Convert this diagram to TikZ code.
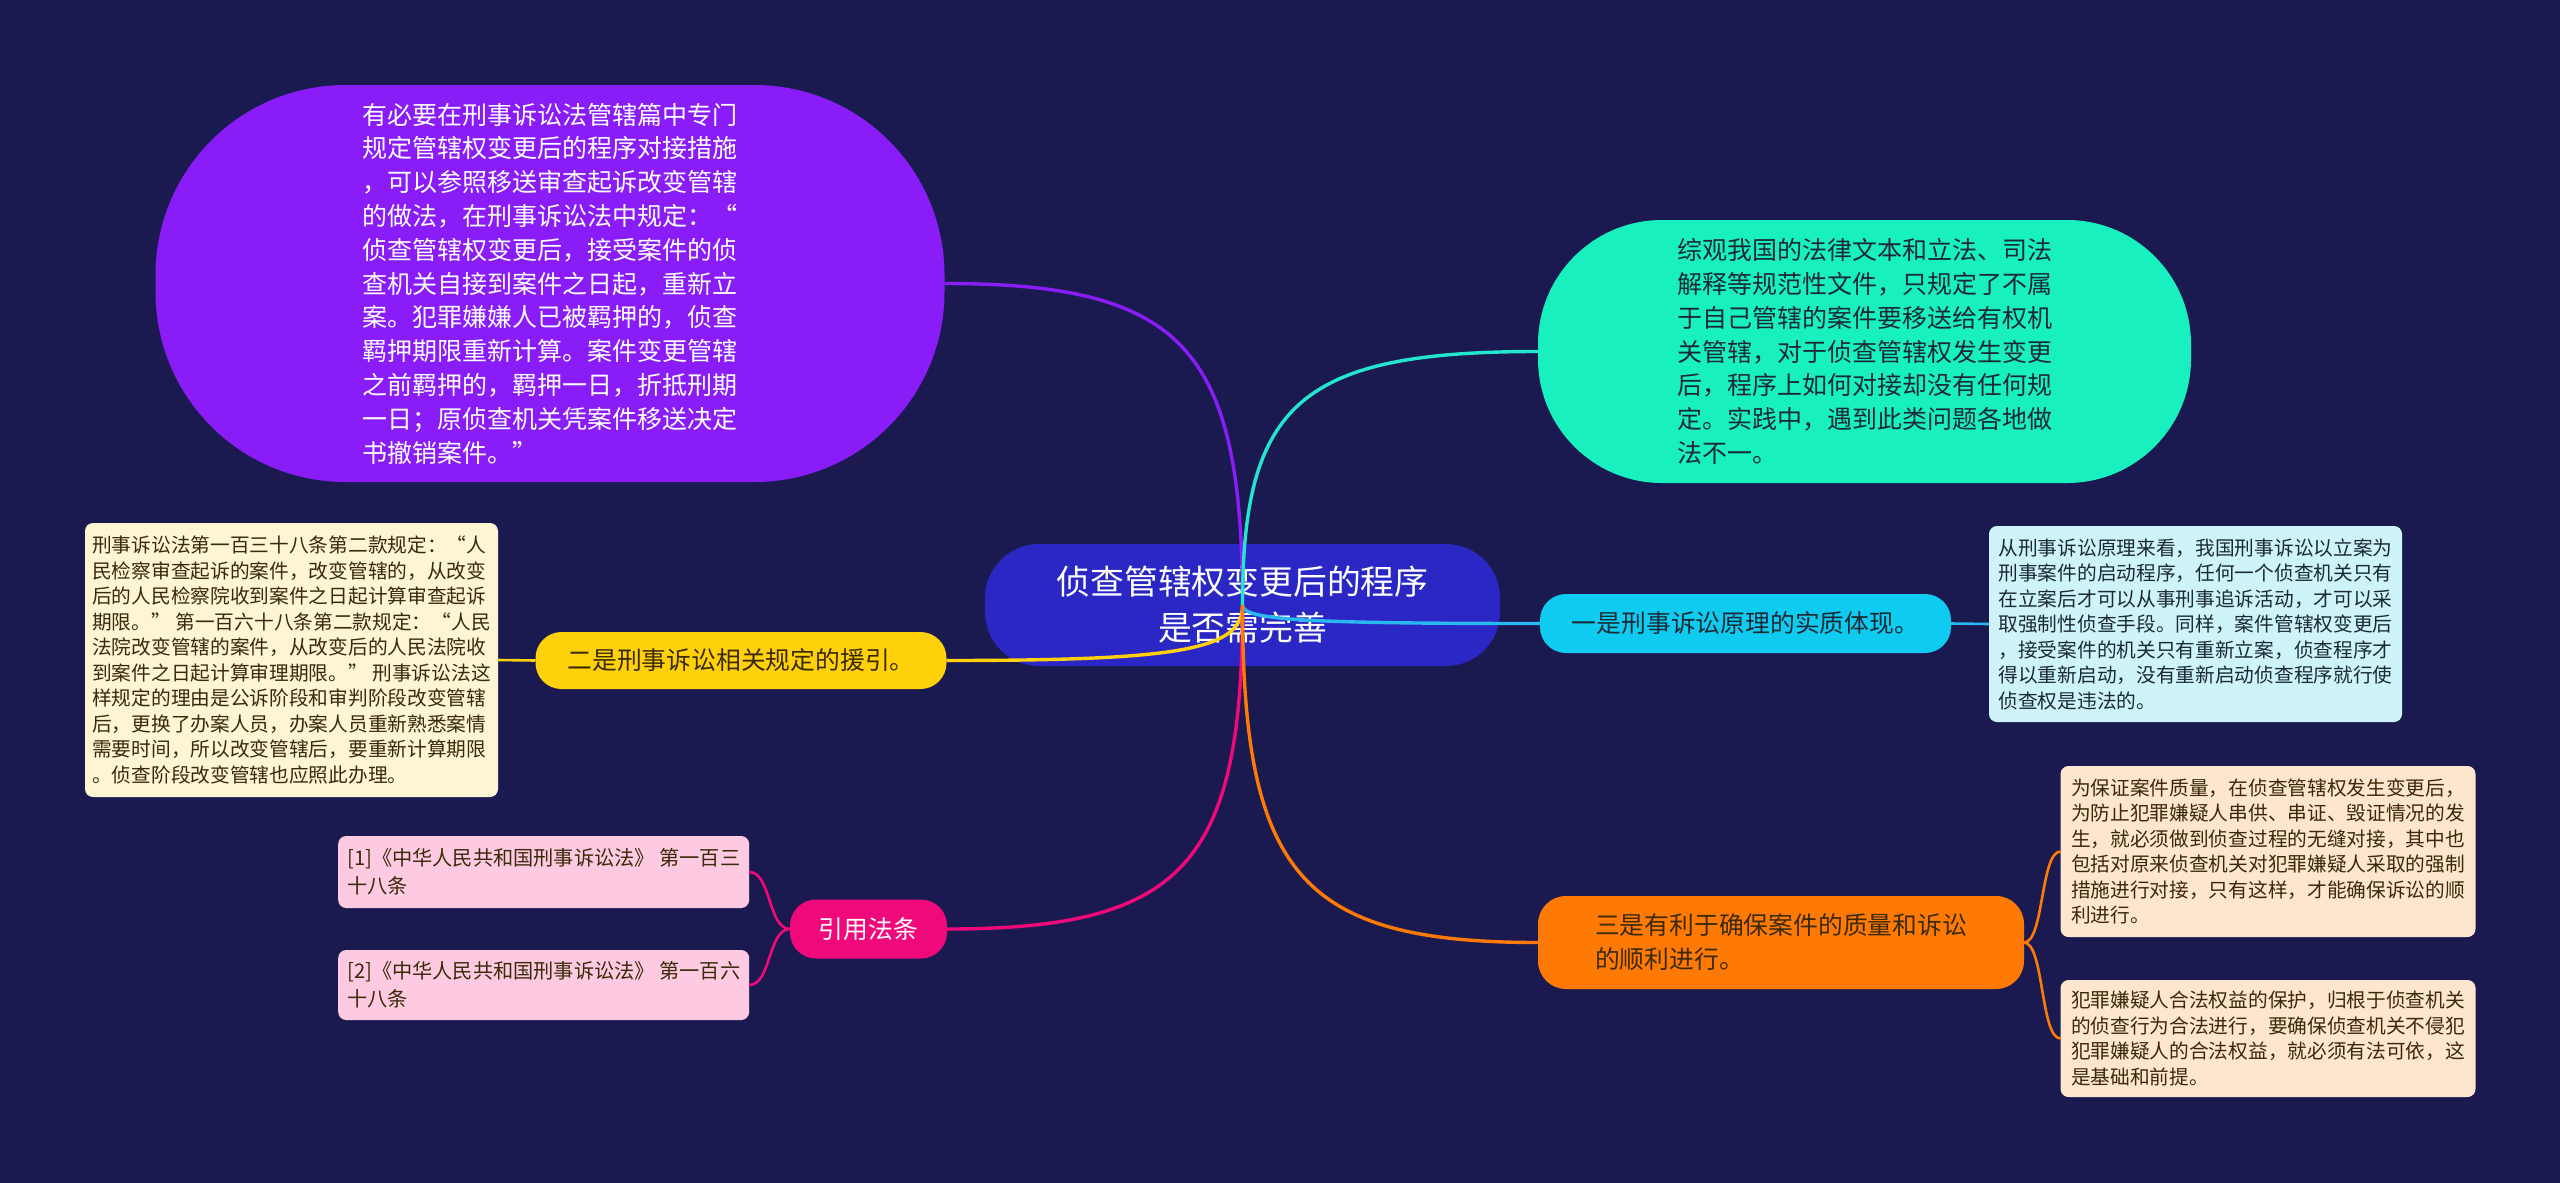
\documentclass[tikz,border=0pt]{standalone}
\usepackage{fontspec}
\setmainfont{Noto Sans CJK SC}
\usetikzlibrary{calc}
\definecolor{bgc}{HTML}{1B1A50}
\definecolor{rootc}{HTML}{2A27C4}
\definecolor{purc}{HTML}{8A1DF7}
\definecolor{tealc}{HTML}{18F0BF}
\definecolor{tealline}{HTML}{22E6D0}
\definecolor{cyanc}{HTML}{10CBF0}
\definecolor{cyanline}{HTML}{2AB8F0}
\definecolor{lbluec}{HTML}{CFF3FB}
\definecolor{yelc}{HTML}{FFD10A}
\definecolor{creamc}{HTML}{FDF5D3}
\definecolor{orac}{HTML}{FF7A05}
\definecolor{peachc}{HTML}{FDE6CF}
\definecolor{magc}{HTML}{F0097A}
\definecolor{pinkc}{HTML}{FDCAE2}
\definecolor{darktxt}{HTML}{1A2A35}
\definecolor{browntxt}{HTML}{3A2A08}
\tikzset{
  every node/.style={inner sep=0pt, outer sep=0pt},
  bigtxt/.style={font=\fontsize{12.5}{16.9}\selectfont, align=left},
  topic/.style={font=\fontsize{12.4}{17}\selectfont, align=left, rounded corners=13pt},
  detail/.style={font=\fontsize{9.85}{12.75}\selectfont, align=left, rounded corners=4pt},
  mainlink/.style={line width=1.7pt},
  sublink/.style={line width=1.3pt},
}
\newcommand\mmcurve[3]{%
  \coordinate (kk) at (#2 |- #3);
  \draw[mainlink,#1] (#2) .. controls ($(#2)!0.8!(kk)$) and ($(#3)!0.8!(kk)$) .. (#3);}
\begin{document}
\begin{tikzpicture}[x=0.5pt,y=-0.5pt]
\fill[bgc] (0,0) rectangle (2560,1183);
\useasboundingbox (0,0) rectangle (2560,1183);

% root
\node[fill=rootc, text=white, rounded corners=27pt, minimum width=257.5pt, minimum height=61pt,
      align=center, font=\fontsize{16.9}{23}\selectfont] (root) at (1242.5,605)
  {侦查管辖权变更后的程序\\是否需完善};

% purple
\node[fill=purc, text=white, bigtxt, rounded corners=95pt, minimum width=394.5pt, minimum height=198.5pt] (pur) at (550,283.5)
  {有必要在刑事诉讼法管辖篇中专门\\
   规定管辖权变更后的程序对接措施\\
   ，可以参照移送审查起诉改变管辖\\
   的做法，在刑事诉讼法中规定：“\\
   侦查管辖权变更后，接受案件的侦\\
   查机关自接到案件之日起，重新立\\
   案。犯罪嫌嫌人已被羁押的，侦查\\
   羁押期限重新计算。案件变更管辖\\
   之前羁押的，羁押一日，折抵刑期\\
   一日；原侦查机关凭案件移送决定\\
   书撤销案件。”};

% teal
\node[fill=tealc, text=darktxt, bigtxt, rounded corners=62pt, minimum width=326.5pt, minimum height=131.5pt] (teal) at (1864.5,351.5)
  {综观我国的法律文本和立法、司法\\
   解释等规范性文件，只规定了不属\\
   于自己管辖的案件要移送给有权机\\
   关管辖，对于侦查管辖权发生变更\\
   后，程序上如何对接却没有任何规\\
   定。实践中，遇到此类问题各地做\\
   法不一。};

% first
\node[fill=cyanc, text=darktxt, topic, minimum width=205.5pt, minimum height=29.5pt] (one) at (1745.5,623.5)
  {一是刑事诉讼原理的实质体现。};
\node[fill=lbluec, text=darktxt, detail, minimum width=206.5pt, minimum height=98pt] (lb) at (2195.5,624)
  {从刑事诉讼原理来看，我国刑事诉讼以立案为\\
   刑事案件的启动程序，任何一个侦查机关只有\\
   在立案后才可以从事刑事追诉活动，才可以采\\
   取强制性侦查手段。同样，案件管辖权变更后\\
   ，接受案件的机关只有重新立案，侦查程序才\\
   得以重新启动，没有重新启动侦查程序就行使\\
   侦查权是违法的。};

% second
\node[fill=yelc, text=browntxt, topic, minimum width=205.5pt, minimum height=28.5pt] (two) at (741,660.5)
  {二是刑事诉讼相关规定的援引。};
\node[fill=creamc, text=browntxt, detail, minimum width=206.5pt, minimum height=137pt] (cream) at (291.5,660)
  {刑事诉讼法第一百三十八条第二款规定：“人\\
   民检察审查起诉的案件，改变管辖的，从改变\\
   后的人民检察院收到案件之日起计算审查起诉\\
   期限。” 第一百六十八条第二款规定：“人民\\
   法院改变管辖的案件，从改变后的人民法院收\\
   到案件之日起计算审理期限。” 刑事诉讼法这\\
   样规定的理由是公诉阶段和审判阶段改变管辖\\
   后，更换了办案人员，办案人员重新熟悉案情\\
   需要时间，所以改变管辖后，要重新计算期限\\
   。侦查阶段改变管辖也应照此办理。};

% third
\node[fill=orac, text=browntxt, topic, rounded corners=14pt, minimum width=243pt, minimum height=46.5pt] (three) at (1781,942.5)
  {三是有利于确保案件的质量和诉讼\\的顺利进行。};
\node[fill=peachc, text=browntxt, detail, minimum width=207.5pt, minimum height=85.5pt] (pa) at (2268,851.5)
  {为保证案件质量，在侦查管辖权发生变更后，\\
   为防止犯罪嫌疑人串供、串证、毁证情况的发\\
   生，就必须做到侦查过程的无缝对接，其中也\\
   包括对原来侦查机关对犯罪嫌疑人采取的强制\\
   措施进行对接，只有这样，才能确保诉讼的顺\\
   利进行。};
\node[fill=peachc, text=browntxt, detail, minimum width=207.5pt, minimum height=58.5pt] (pb) at (2268,1038.5)
  {犯罪嫌疑人合法权益的保护，归根于侦查机关\\
   的侦查行为合法进行，要确保侦查机关不侵犯\\
   犯罪嫌疑人的合法权益，就必须有法可依，这\\
   是基础和前提。};

% citations
\node[fill=magc, text=white, topic, minimum width=78.5pt, minimum height=29.5pt] (cite) at (868.5,929)
  {引用法条};
\node[fill=pinkc, text=browntxt, detail, font=\fontsize{10.1}{13.8}\selectfont, minimum width=205.5pt, minimum height=36pt] (ka) at (543.7,872)
  {[1]《中华人民共和国刑事诉讼法》~第一百三\\十八条};
\node[fill=pinkc, text=browntxt, detail, font=\fontsize{10.1}{13.8}\selectfont, minimum width=205.5pt, minimum height=35pt] (kb) at (543.7,985)
  {[2]《中华人民共和国刑事诉讼法》~第一百六\\十八条};

% main connectors
\mmcurve{purc}{root.center}{pur.east}
\mmcurve{tealline}{root.center}{teal.west}
\mmcurve{cyanline}{root.center}{one.west}
\mmcurve{yelc}{root.center}{two.east}
\mmcurve{magc}{root.center}{cite.east}
\mmcurve{orac}{root.center}{three.west}

% sub connectors
\draw[sublink, cyanline] (one.east) -- (lb.west);
\draw[sublink, yelc] (two.west) -- (cream.east);
\draw[sublink, orac] (three.east) .. controls +(20,0) and +(-20,0) .. (pa.west);
\draw[sublink, orac] (three.east) .. controls +(20,0) and +(-20,0) .. (pb.west);
\draw[sublink, magc] (cite.west) .. controls +(-22,0) and +(22,0) .. (ka.east);
\draw[sublink, magc] (cite.west) .. controls +(-22,0) and +(22,0) .. (kb.east);
\end{tikzpicture}
\end{document}
